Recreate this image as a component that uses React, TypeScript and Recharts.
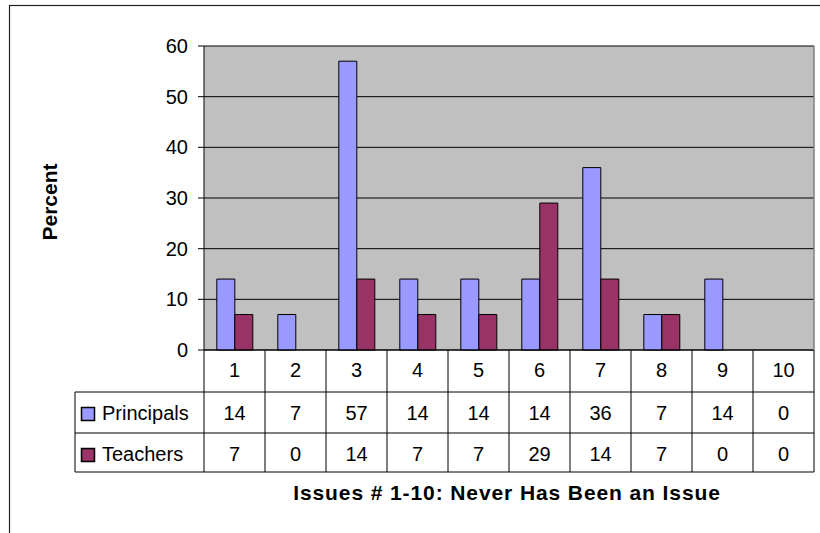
import React from "react";
import { BarChart, Bar, XAxis, YAxis, CartesianGrid } from "recharts";

const issues = ["1", "2", "3", "4", "5", "6", "7", "8", "9", "10"];
const principals = [14, 7, 57, 14, 14, 14, 36, 7, 14, 0];
const teachers = [7, 0, 14, 7, 7, 29, 14, 7, 0, 0];
const yTicks = [0, 10, 20, 30, 40, 50, 60];

const data = issues.map((issue, i) => ({
  issue,
  principals: principals[i],
  teachers: teachers[i],
}));

const PLOT_LEFT = 204;
const PLOT_RIGHT = 814;
const PLOT_TOP = 46;
const PLOT_BOTTOM = 350;
const ROW1 = 392;
const ROW2 = 433;
const TABLE_BOTTOM = 472;
const COL_W = (PLOT_RIGHT - PLOT_LEFT) / issues.length;
const FONT = "'Liberation Sans', Arial, sans-serif";
const FS = 20;

function TableColumn(props: any) {
  const { x, payload } = props;
  const i = payload.index;
  const left = x - COL_W / 2;
  return (
    <g>
      <line x1={left} y1={PLOT_BOTTOM} x2={left} y2={TABLE_BOTTOM} stroke="#000" />
      {i === issues.length - 1 && (
        <line x1={left + COL_W} y1={PLOT_BOTTOM} x2={left + COL_W} y2={TABLE_BOTTOM} stroke="#000" />
      )}
      <text x={x} y={377} textAnchor="middle" fontSize={FS} fontFamily={FONT} fill="#000">
        {payload.value}
      </text>
      <text x={x} y={420} textAnchor="middle" fontSize={FS} fontFamily={FONT} fill="#000">
        {principals[i]}
      </text>
      <text x={x} y={461} textAnchor="middle" fontSize={FS} fontFamily={FONT} fill="#000">
        {teachers[i]}
      </text>
    </g>
  );
}

export default function App() {
  return (
    <div style={{ position: "absolute", left: 0, top: 0, width: 820, height: 533, background: "#fff", overflow: "hidden" }}>
      <div style={{ position: "absolute", left: 0, top: 0 }}>
        <BarChart
          width={820}
          height={533}
          data={data}
          margin={{ top: PLOT_TOP, right: 820 - PLOT_RIGHT, bottom: 533 - TABLE_BOTTOM, left: PLOT_LEFT - 60 }}
          barCategoryGap="21%"
          barGap={0}
        >
          <CartesianGrid vertical={false} stroke="#000" fill="#C0C0C0" fillOpacity={1} />
          <XAxis
            dataKey="issue"
            height={TABLE_BOTTOM - PLOT_BOTTOM}
            tickLine={false}
            axisLine={{ stroke: "#000" }}
            interval={0}
            tick={<TableColumn />}
          />
          <YAxis
            width={60}
            domain={[0, 60]}
            ticks={yTicks}
            tickSize={6}
            tickMargin={10}
            axisLine={{ stroke: "#000" }}
            tickLine={{ stroke: "#000" }}
            tick={{ fontSize: FS, fontFamily: FONT, fill: "#000" }}
          />
          <Bar dataKey="principals" fill="#9999FF" stroke="#000" strokeWidth={1} isAnimationActive={false} />
          <Bar dataKey="teachers" fill="#993366" stroke="#000" strokeWidth={1} isAnimationActive={false} />
        </BarChart>
      </div>
      <svg width={820} height={533} style={{ position: "absolute", left: 0, top: 0, pointerEvents: "none" }}>
        <rect x={9.5} y={5.5} width={830} height={560} fill="none" stroke="#222" strokeWidth={1.2} />
        <line x1={PLOT_RIGHT} y1={PLOT_TOP} x2={PLOT_RIGHT} y2={PLOT_BOTTOM} stroke="#808080" strokeWidth={1.5} />
        <line x1={75} y1={ROW1} x2={PLOT_RIGHT} y2={ROW1} stroke="#000" />
        <line x1={75} y1={ROW2} x2={PLOT_RIGHT} y2={ROW2} stroke="#000" />
        <line x1={75} y1={TABLE_BOTTOM} x2={PLOT_RIGHT} y2={TABLE_BOTTOM} stroke="#000" />
        <line x1={75} y1={ROW1} x2={75} y2={TABLE_BOTTOM} stroke="#000" />
        <rect x={81.5} y={407.5} width={13} height={13} fill="#9999FF" stroke="#000" strokeWidth={1.5} />
        <text x={102} y={420} fontSize={FS} fontFamily={FONT} fill="#000">Principals</text>
        <rect x={81.5} y={448.5} width={13} height={13} fill="#993366" stroke="#000" strokeWidth={1.5} />
        <text x={102} y={461} fontSize={FS} fontFamily={FONT} fill="#000">Teachers</text>
        <text
          x={(PLOT_LEFT + PLOT_RIGHT) / 2 - 2}
          y={500}
          textAnchor="middle"
          fontSize={21}
          fontWeight="bold"
          letterSpacing={0.9}
          fontFamily={FONT}
          fill="#000"
        >
          Issues # 1-10: Never Has Been an Issue
        </text>
        <text
          x={57}
          y={202}
          textAnchor="middle"
          fontSize={21}
          fontWeight="bold"
          fontFamily={FONT}
          fill="#000"
          transform="rotate(-90 57 202)"
        >
          Percent
        </text>
      </svg>
    </div>
  );
}
